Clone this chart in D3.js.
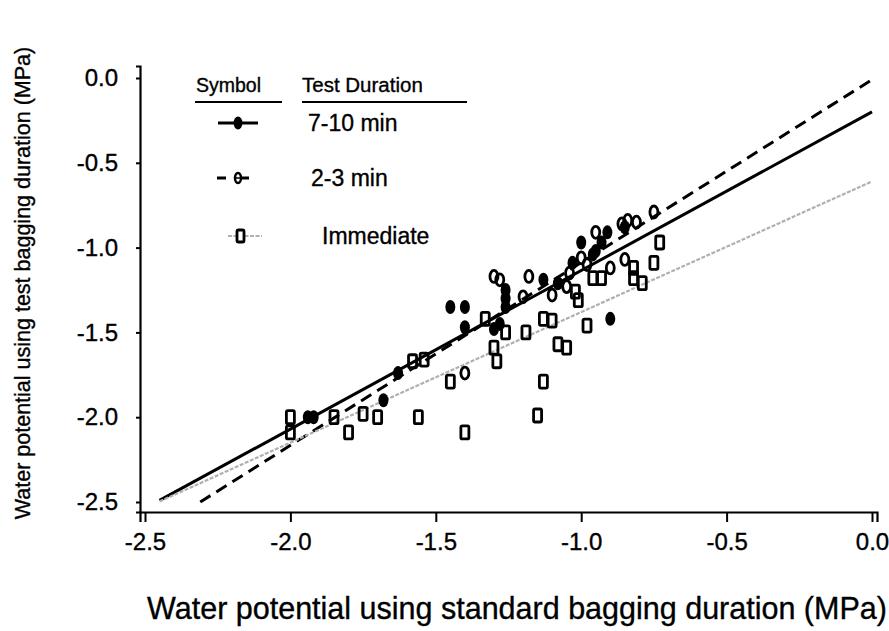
<!DOCTYPE html>
<html>
<head>
<meta charset="utf-8">
<script src="https://cdn.jsdelivr.net/npm/d3@7"></script>
<style>
  body { margin: 0; background: #fff; }
  text { font-family: "Liberation Sans", Arial, sans-serif; fill: #000; stroke: #000; stroke-width: 0.35px; }
</style>
</head>
<body>
<div id="chart"></div>
<script>
const WIDTH = 889, HEIGHT = 631;

// tick values
const xTicks = [-2.5, -2.0, -1.5, -1.0, -0.5, 0.0];
const yTicks = [0.0, -0.5, -1.0, -1.5, -2.0, -2.5];

// 7-10 min (filled)
const fullPoints = [
  [-1.94, -2.00], [-1.92, -2.00], [-1.68, -1.90], [-1.63, -1.74],
  [-1.45, -1.35], [-1.40, -1.35], [-1.40, -1.47], [-1.30, -1.48],
  [-1.28, -1.45], [-1.26, -1.25], [-1.26, -1.30], [-1.26, -1.35],
  [-1.13, -1.19], [-1.08, -1.21], [-1.03, -1.09], [-1.00, -0.97],
  [-0.96, -1.04], [-0.95, -1.02], [-0.93, -0.97], [-0.91, -0.91],
  [-0.90, -1.42], [-0.85, -0.88]
];

// 2-3 min (open ellipse)
const partialPoints = [
  [-1.40, -1.74], [-1.30, -1.17], [-1.28, -1.19], [-1.20, -1.29],
  [-1.18, -1.17], [-1.10, -1.28], [-1.05, -1.23], [-1.04, -1.15],
  [-1.00, -1.06], [-0.98, -1.10], [-0.95, -0.91], [-0.90, -1.12],
  [-0.85, -1.07], [-0.86, -0.86], [-0.84, -0.84], [-0.81, -0.85],
  [-0.75, -0.79]
];

// Immediate (open square)
const immediatePoints = [
  [-2.00, -2.00], [-2.00, -2.09], [-1.85, -2.00], [-1.80, -2.09],
  [-1.75, -1.98], [-1.70, -2.00], [-1.58, -1.67], [-1.54, -1.66],
  [-1.56, -2.00], [-1.45, -1.79], [-1.40, -2.09], [-1.33, -1.42],
  [-1.30, -1.59], [-1.29, -1.67], [-1.26, -1.50], [-1.19, -1.50],
  [-1.13, -1.42], [-1.10, -1.43], [-1.08, -1.57], [-1.05, -1.59],
  [-1.02, -1.26], [-1.01, -1.31], [-0.98, -1.46], [-0.96, -1.18],
  [-0.93, -1.18], [-0.82, -1.12], [-0.82, -1.18], [-0.79, -1.21],
  [-0.75, -1.09], [-0.73, -0.97], [-1.13, -1.79], [-1.15, -1.99]
];

// regression lines: intercept, slope, x range
const fits = [
  { name: "full", intercept: -0.20, slope: 0.935, from: -2.45, to: 0 },
  { name: "partial", intercept: -0.01, slope: 1.078, from: -2.31, to: 0 },
  { name: "immediate", intercept: -0.61, slope: 0.77, from: -2.45, to: 0 }
];

const legendLabels = ["7-10 min", "2-3 min", "Immediate"];

const svg = d3.select("#chart").append("svg")
  .attr("width", WIDTH)
  .attr("height", HEIGHT);

svg.append("rect").attr("width", WIDTH).attr("height", HEIGHT).attr("fill", "#fff");

const x = d3.scaleLinear().domain([-2.5, 0]).range([145, 872]);
const y = d3.scaleLinear().domain([0, -2.5]).range([78, 502]);

// axis scales stretched a little past the data range
const xAxisScale = d3.scaleLinear().domain([x.invert(140), x.invert(877)]).range([140, 877]);
const yAxisScale = d3.scaleLinear().domain([y.invert(66), y.invert(512)]).range([66, 512]);

const fmt = d => d3.format(".1f")(d).replace("−", "-");

const xAxis = svg.append("g")
  .attr("transform", "translate(0,512)")
  .call(d3.axisBottom(xAxisScale).tickValues(xTicks).tickSizeOuter(0).tickSize(10).tickPadding(11));
xAxis.selectAll("text").style("font-size", "24px").text(fmt);

const yAxis = svg.append("g")
  .attr("transform", "translate(140,0)")
  .call(d3.axisLeft(yAxisScale).tickValues(yTicks).tickSizeOuter(0).tickSize(4).tickPadding(18));
yAxis.selectAll("text").style("font-size", "24px").text(fmt);

svg.selectAll(".domain").attr("stroke", "#000").attr("stroke-width", 2.2);
svg.selectAll(".tick line").attr("stroke", "#000").attr("stroke-width", 2);

// Regression lines
const lineStyle = {
  full: { stroke: "#000", width: 3, dash: null },
  partial: { stroke: "#000", width: 3, dash: "12,7" },
  immediate: { stroke: "#b0b0b0", width: 2.2, dash: "4,1.5" }
};

fits.forEach(f => {
  const s = lineStyle[f.name];
  svg.append("line")
    .attr("x1", x(f.from))
    .attr("y1", y(f.intercept + f.slope * f.from))
    .attr("x2", x(f.to))
    .attr("y2", y(f.intercept + f.slope * f.to))
    .attr("stroke", s.stroke)
    .attr("stroke-width", s.width)
    .attr("stroke-dasharray", s.dash);
});

// Immediate squares
svg.selectAll("rect.imm")
  .data(immediatePoints)
  .join("rect")
  .attr("class", "imm")
  .attr("x", d => x(d[0]) - 4)
  .attr("y", d => y(d[1]) - 6.5)
  .attr("width", 8)
  .attr("height", 13)
  .attr("rx", 1.5)
  .attr("fill", "none")
  .attr("stroke", "#000")
  .attr("stroke-width", 2.8);

// 2-3 min open ellipses
svg.selectAll("ellipse.partial")
  .data(partialPoints)
  .join("ellipse")
  .attr("class", "partial")
  .attr("cx", d => x(d[0]))
  .attr("cy", d => y(d[1]))
  .attr("rx", 4)
  .attr("ry", 6)
  .attr("fill", "none")
  .attr("stroke", "#000")
  .attr("stroke-width", 2.8);

// 7-10 min filled ellipses
svg.selectAll("ellipse.full")
  .data(fullPoints)
  .join("ellipse")
  .attr("class", "full")
  .attr("cx", d => x(d[0]))
  .attr("cy", d => y(d[1]))
  .attr("rx", 5)
  .attr("ry", 7)
  .attr("fill", "#000");

// --- Legend ---
const legend = svg.append("g");

legend.append("text").attr("x", 196).attr("y", 92).style("font-size", "19.5px").text("Symbol");
legend.append("text").attr("x", 302).attr("y", 92).style("font-size", "20.5px").text("Test Duration");
legend.append("line").attr("x1", 195).attr("x2", 282).attr("y1", 102).attr("y2", 102)
  .attr("stroke", "#000").attr("stroke-width", 1.8);
legend.append("line").attr("x1", 302).attr("x2", 467).attr("y1", 102).attr("y2", 102)
  .attr("stroke", "#000").attr("stroke-width", 1.8);

// row 1
legend.append("line").attr("x1", 218).attr("x2", 258).attr("y1", 123).attr("y2", 123)
  .attr("stroke", "#000").attr("stroke-width", 3);
legend.append("ellipse").attr("cx", 238).attr("cy", 123).attr("rx", 4.5).attr("ry", 6.5).attr("fill", "#000");
legend.append("text").attr("x", 308).attr("y", 131).style("font-size", "23px").text(legendLabels[0]);

// row 2
legend.append("line").attr("x1", 217).attr("x2", 258).attr("y1", 178).attr("y2", 178)
  .attr("stroke", "#000").attr("stroke-width", 3).attr("stroke-dasharray", "9,14");
legend.append("ellipse").attr("cx", 238).attr("cy", 178).attr("rx", 3).attr("ry", 5)
  .attr("fill", "none").attr("stroke", "#000").attr("stroke-width", 2.5);
legend.append("line").attr("x1", 235).attr("x2", 241).attr("y1", 178).attr("y2", 178)
  .attr("stroke", "#000").attr("stroke-width", 1.5);
legend.append("text").attr("x", 311).attr("y", 186).style("font-size", "23px").text(legendLabels[1]);

// row 3
legend.append("line").attr("x1", 228).attr("x2", 262).attr("y1", 236).attr("y2", 236)
  .attr("stroke", "#b0b0b0").attr("stroke-width", 2.2).attr("stroke-dasharray", "4,1.5");
legend.append("rect").attr("x", 237).attr("y", 230).attr("width", 7).attr("height", 12).attr("rx", 1.5)
  .attr("fill", "#fff").attr("stroke", "#000").attr("stroke-width", 2.8);
legend.append("text").attr("x", 322).attr("y", 244).style("font-size", "23px").text(legendLabels[2]);

// Axis titles
svg.append("text")
  .attr("transform", "translate(30,283) rotate(-90)")
  .attr("text-anchor", "middle")
  .style("font-size", "21.5px")
  .text("Water potential using test bagging duration (MPa)");

svg.append("text")
  .attr("x", 517)
  .attr("y", 619)
  .attr("text-anchor", "middle")
  .style("font-size", "30.5px")
  .text("Water potential using standard bagging duration (MPa)");
</script>
</body>
</html>
